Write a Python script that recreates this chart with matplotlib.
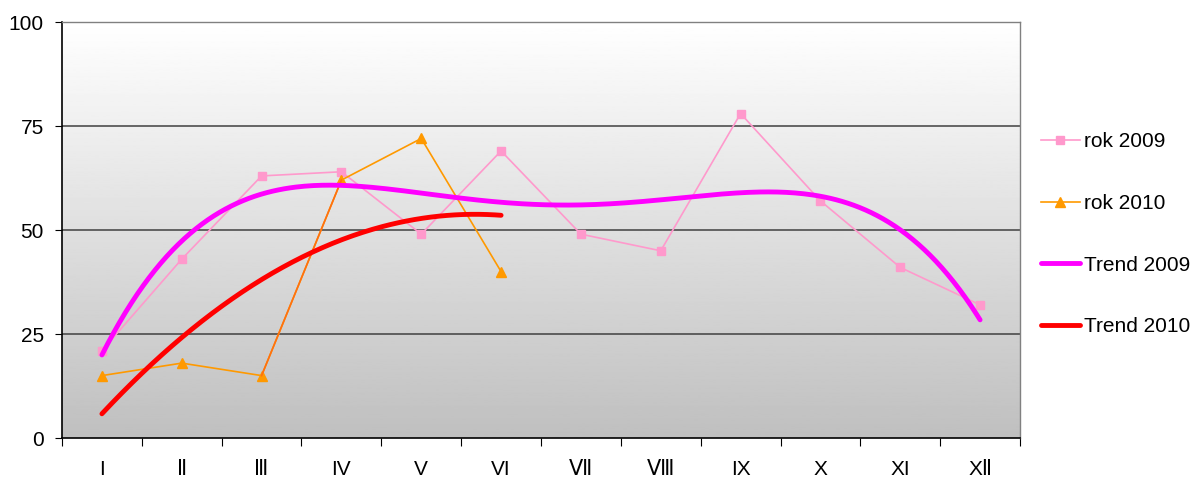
import numpy as np
import matplotlib
matplotlib.use("Agg")
import matplotlib.pyplot as plt

plt.rcParams['font.family'] = ['Liberation Sans', 'DejaVu Sans']

months = ['I', 'Ⅱ', 'Ⅲ', 'IV', 'V', 'VI', 'Ⅶ', 'Ⅷ', 'IX', 'X', 'XI', 'XⅡ']
rok_2009 = [21, 43, 63, 64, 49, 69, 49, 45, 78, 57, 41, 32]
rok_2010 = [15, 18, 15, 62, 72, 40]

x09 = np.arange(1, len(rok_2009) + 1)
x10 = np.arange(1, len(rok_2010) + 1)

# trend lines = polynomial fits like Excel
p09 = np.polyfit(x09, rok_2009, 4)
p10 = np.polyfit(x10, rok_2010, 2)
xs09 = np.linspace(1, 12, 300)
xs10 = np.linspace(1, 6, 200)

fig = plt.figure(figsize=(11.93, 4.8), dpi=100)
ax = fig.add_axes([62 / 1193, 42 / 480, 958 / 1193, 416 / 480])

# gradient background
grad = np.linspace(1.0, 0.75, 256).reshape(-1, 1)
ax.imshow(grad, cmap='gray', vmin=0, vmax=1, aspect='auto',
          extent=[0.5, 12.5, 0, 100], origin='upper', zorder=0)

for yv in [25, 50, 75]:
    ax.axhline(yv, color='#404040', lw=1.1, zorder=1)

ax.plot(x09, rok_2009, color='#ff99cc', lw=1.2, marker='s', ms=6,
        mec='#ff99cc', mfc='#ff99cc', label='rok 2009', zorder=3)
ax.plot(x10, rok_2010, color='#ff9900', lw=1.2, marker='^', ms=7,
        mec='#ff9900', mfc='#ff9900', label='rok 2010', zorder=3)
ax.plot(x10[2:4], rok_2010[2:4], color='#ff7010', lw=1.2, zorder=3)
ax.plot(xs09, np.polyval(p09, xs09), color='#ff00ff', lw=3.5,
        solid_capstyle='round', label='Trend 2009', zorder=4)
ax.plot(xs10, np.polyval(p10, xs10), color='#ff0000', lw=3.5,
        solid_capstyle='round', label='Trend 2010', zorder=4)

ax.set_xlim(0.5, 12.5)
ax.set_ylim(0, 100)
ax.set_yticks([0, 25, 50, 75, 100])
ax.tick_params(axis='y', labelsize=15, length=5, direction='out', pad=8)

ax.set_xticks(np.arange(0.5, 13, 1))
ax.set_xticklabels([])
ax.set_xticks(x09, minor=True)
ax.set_xticklabels(months, minor=True)
ax.tick_params(axis='x', which='major', length=6, direction='out')
ax.tick_params(axis='x', which='minor', length=0, labelsize=15, pad=16)

for s in ['left', 'bottom']:
    ax.spines[s].set_color('black')
    ax.spines[s].set_linewidth(1.2)
for s in ['top', 'right']:
    ax.spines[s].set_color('#808080')
    ax.spines[s].set_linewidth(1.0)

ax.legend(loc='center left', bbox_to_anchor=(1.002, 0.49), frameon=False,
          fontsize=15, labelspacing=2.05, handlelength=1.9, handletextpad=0.2)

fig.savefig('out.png', dpi=100)
